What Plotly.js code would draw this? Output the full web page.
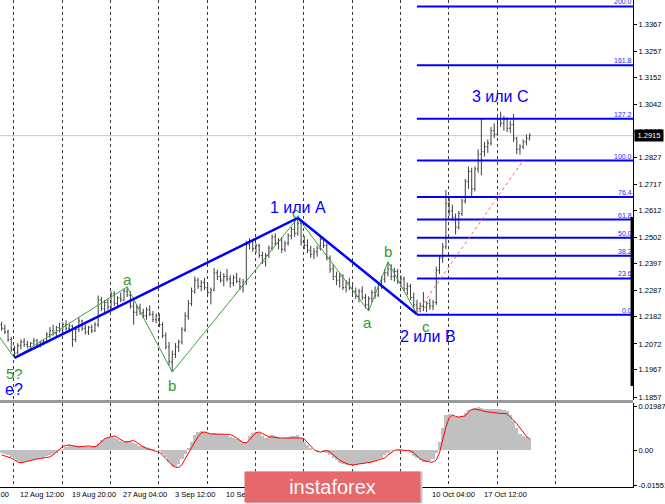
<!DOCTYPE html>
<html>
<head>
<meta charset="utf-8">
<script src="https://cdn.plot.ly/plotly-3.0.1.min.js"></script>
<style>html,body{margin:0;padding:0;background:#fff;}#chart{width:665px;height:504px;}</style>
</head>
<body>
<div id="chart"></div>
<script>
// ---- price bars (each bar = 8h step), GBP/USD H4 view ----
const opens = [1.2150,1.2135,1.2120,1.2090,1.2050,1.2035,1.2065,1.2080,1.2070,1.2062,1.2075,1.2085,1.2068,1.2078,1.2082,1.2110,1.2125,1.2115,1.2138,1.2128,
1.2150,1.2135,1.2145,1.2090,1.2130,1.2165,1.2135,1.2120,1.2138,1.2125,1.2150,1.2250,1.2215,1.2240,1.2222,1.2275,1.2235,1.2258,1.2250,1.2285,
1.2270,1.2225,1.2200,1.2220,1.2198,1.2185,1.2210,1.2192,1.2170,1.2185,1.2150,1.2105,1.2060,1.2000,1.2030,1.2060,1.2080,1.2130,1.2185,1.2235,
1.2285,1.2330,1.2305,1.2320,1.2300,1.2280,1.2290,1.2360,1.2345,1.2330,1.2345,1.2335,1.2318,1.2340,1.2325,1.2305,1.2325,1.2475,1.2485,1.2458,
1.2470,1.2430,1.2405,1.2430,1.2460,1.2505,1.2480,1.2490,1.2455,1.2480,1.2510,1.2535,1.2520,1.2560,1.2485,1.2470,1.2450,1.2435,1.2445,1.2460,
1.2495,1.2470,1.2420,1.2375,1.2345,1.2330,1.2345,1.2300,1.2320,1.2298,1.2285,1.2265,1.2285,1.2260,1.2230,1.2255,1.2280,1.2270,1.2310,1.2335,
1.2360,1.2375,1.2345,1.2365,1.2325,1.2335,1.2295,1.2305,1.2260,1.2230,1.2215,1.2225,1.2220,1.2235,1.2225,1.2240,1.2370,1.2420,1.2465,1.2640,
1.2610,1.2585,1.2545,1.2600,1.2650,1.2730,1.2770,1.2700,1.2780,1.2840,1.2850,1.2870,1.2885,1.2935,1.2920,1.2980,1.2965,1.2980,1.2945,1.2960,
1.2905,1.2860,1.2870,1.2890,1.2905];
const highs = [1.2162,1.2150,1.2130,1.2100,1.2065,1.2075,1.2090,1.2095,1.2085,1.2080,1.2095,1.2092,1.2085,1.2092,1.2120,1.2140,1.2150,1.2145,1.2158,1.2160,
1.2168,1.2155,1.2150,1.2140,1.2180,1.2170,1.2150,1.2145,1.2150,1.2160,1.2268,1.2262,1.2250,1.2255,1.2285,1.2285,1.2265,1.2280,1.2295,1.2303,
1.2285,1.2245,1.2230,1.2235,1.2215,1.2220,1.2228,1.2205,1.2195,1.2195,1.2160,1.2118,1.2080,1.2045,1.2075,1.2090,1.2140,1.2200,1.2250,1.2300,
1.2345,1.2340,1.2330,1.2340,1.2315,1.2300,1.2380,1.2372,1.2365,1.2358,1.2375,1.2350,1.2350,1.2360,1.2340,1.2335,1.2490,1.2500,1.2495,1.2480,
1.2478,1.2445,1.2440,1.2470,1.2515,1.2520,1.2500,1.2505,1.2490,1.2520,1.2545,1.2570,1.2582,1.2570,1.2510,1.2495,1.2470,1.2460,1.2470,1.2505,
1.2505,1.2480,1.2430,1.2395,1.2365,1.2360,1.2355,1.2330,1.2340,1.2320,1.2300,1.2295,1.2305,1.2275,1.2265,1.2290,1.2305,1.2320,1.2345,1.2375,
1.2404,1.2395,1.2380,1.2375,1.2350,1.2345,1.2320,1.2315,1.2280,1.2250,1.2240,1.2282,1.2245,1.2255,1.2250,1.2385,1.2430,1.2480,1.2695,1.2670,
1.2635,1.2600,1.2610,1.2660,1.2740,1.2790,1.2785,1.2790,1.2860,1.2985,1.2890,1.2900,1.2950,1.2965,1.2990,1.3012,1.2995,1.2990,1.2975,1.3003,
1.2910,1.2880,1.2900,1.2920,1.2925];
const lows = [1.2125,1.2112,1.2080,1.2040,1.2015,1.2030,1.2050,1.2060,1.2055,1.2050,1.2065,1.2060,1.2058,1.2068,1.2075,1.2095,1.2105,1.2100,1.2118,1.2110,
1.2125,1.2118,1.2060,1.2080,1.2120,1.2125,1.2110,1.2108,1.2115,1.2120,1.2140,1.2205,1.2200,1.2210,1.2215,1.2225,1.2222,1.2240,1.2245,1.2262,
1.2215,1.2150,1.2185,1.2190,1.2175,1.2170,1.2185,1.2160,1.2155,1.2140,1.2095,1.2050,1.1985,1.1958,1.2015,1.2040,1.2070,1.2120,1.2170,1.2225,
1.2275,1.2295,1.2285,1.2290,1.2270,1.2232,1.2285,1.2330,1.2320,1.2305,1.2325,1.2300,1.2305,1.2318,1.2290,1.2280,1.2310,1.2455,1.2445,1.2440,
1.2420,1.2395,1.2385,1.2420,1.2450,1.2470,1.2455,1.2440,1.2445,1.2470,1.2495,1.2505,1.2510,1.2470,1.2455,1.2440,1.2420,1.2415,1.2425,1.2450,
1.2460,1.2410,1.2360,1.2330,1.2310,1.2300,1.2290,1.2280,1.2290,1.2270,1.2255,1.2240,1.2250,1.2215,1.2205,1.2240,1.2255,1.2262,1.2295,1.2320,
1.2345,1.2330,1.2325,1.2315,1.2300,1.2285,1.2270,1.2250,1.2215,1.2195,1.2200,1.2205,1.2200,1.2210,1.2208,1.2230,1.2355,1.2400,1.2455,1.2590,
1.2570,1.2515,1.2535,1.2590,1.2640,1.2700,1.2665,1.2690,1.2765,1.2755,1.2830,1.2845,1.2875,1.2905,1.2915,1.2950,1.2935,1.2930,1.2925,1.2890,
1.2840,1.2838,1.2860,1.2875,1.2895];
const closes = [1.2135,1.2120,1.2090,1.2050,1.2035,1.2065,1.2080,1.2070,1.2062,1.2075,1.2085,1.2068,1.2078,1.2082,1.2110,1.2125,1.2115,1.2138,1.2128,1.2150,
1.2135,1.2145,1.2090,1.2130,1.2165,1.2135,1.2120,1.2138,1.2125,1.2150,1.2250,1.2215,1.2240,1.2222,1.2275,1.2235,1.2258,1.2250,1.2285,1.2270,
1.2225,1.2200,1.2220,1.2198,1.2185,1.2210,1.2192,1.2170,1.2185,1.2150,1.2105,1.2060,1.2000,1.2030,1.2060,1.2080,1.2130,1.2185,1.2235,1.2285,
1.2330,1.2305,1.2320,1.2300,1.2280,1.2290,1.2360,1.2345,1.2330,1.2345,1.2335,1.2318,1.2340,1.2325,1.2305,1.2325,1.2475,1.2485,1.2458,1.2470,
1.2430,1.2405,1.2430,1.2460,1.2505,1.2480,1.2490,1.2455,1.2480,1.2510,1.2535,1.2520,1.2560,1.2485,1.2470,1.2450,1.2435,1.2445,1.2460,1.2495,
1.2470,1.2420,1.2375,1.2345,1.2330,1.2345,1.2300,1.2320,1.2298,1.2285,1.2265,1.2285,1.2260,1.2230,1.2255,1.2280,1.2270,1.2310,1.2335,1.2360,
1.2375,1.2345,1.2365,1.2325,1.2335,1.2295,1.2305,1.2260,1.2230,1.2215,1.2225,1.2220,1.2235,1.2225,1.2240,1.2370,1.2420,1.2465,1.2640,1.2610,
1.2585,1.2545,1.2600,1.2650,1.2730,1.2770,1.2700,1.2780,1.2840,1.2850,1.2870,1.2885,1.2935,1.2920,1.2980,1.2965,1.2980,1.2945,1.2960,1.2905,
1.2860,1.2870,1.2890,1.2905,1.2915];

// ---- MACD window ----
const macdHist = [-0.0012,-0.0015,-0.0020,-0.0028,-0.0038,-0.0048,-0.0056,-0.0054,-0.0048,-0.0045,-0.0042,-0.0040,-0.0036,-0.0032,-0.0027,-0.0022,-0.0016,-0.0010,-0.0004,
0.0005,0.0015,0.0025,0.0020,0.0018,0.0022,0.0020,0.0017,0.0015,0.0017,0.0022,
0.0035,0.0045,0.0052,0.0058,0.0062,
0.0058,0.0050,0.0042,0.0040,0.0042,0.0040,0.0032,0.0028,
0.0022,0.0018,0.0015,0.0012,0.0008,0.0003,-0.0003,
-0.0015,-0.0030,-0.0050,-0.0072,-0.0075,-0.0060,
-0.0040,-0.0015,0.0010,0.0040,0.0070,0.0085,
0.0086,0.0082,0.0080,0.0075,0.0078,0.0076,0.0072,0.0070,0.0066,0.0060,0.0055,0.0050,0.0045,
0.0038,0.0040,0.0065,0.0080,0.0085,0.0078,
0.0065,0.0058,0.0060,0.0068,0.0066,0.0062,0.0058,0.0056,0.0060,0.0064,0.0066,0.0068,
0.0055,0.0040,0.0025,0.0012,0.0002,-0.0003,0.0000,-0.0005,
-0.0012,-0.0022,-0.0035,-0.0045,-0.0055,-0.0062,-0.0065,-0.0066,-0.0064,-0.0062,-0.0060,-0.0058,-0.0058,-0.0055,
-0.0050,-0.0046,-0.0040,-0.0032,-0.0022,-0.0010,
-0.0003,0.0004,0.0006,0.0005,0.0003,-0.0003,-0.0012,
-0.0025,-0.0035,-0.0045,-0.0050,-0.0052,-0.0048,-0.0038,
-0.0010,0.0040,0.0100,0.0160,
0.0165,0.0160,0.0152,0.0150,0.0155,
0.0170,0.0182,0.0186,0.0190,0.0195,0.0192,0.0188,0.0185,0.0186,0.0185,0.0186,0.0184,0.0180,0.0175,
0.0160,0.0130,0.0100,0.0075,0.0065,0.0060,0.0058];
const macdSignal = [-0.0020,-0.0025,-0.0029,-0.0034,-0.0043,-0.0052,-0.0056,-0.0052,-0.0047,-0.0043,
-0.0040,-0.0038,-0.0036,-0.0034,-0.0031,-0.0029,-0.0020,-0.0007,0.0007,0.0018,
0.0022,0.0025,0.0022,0.0018,0.0016,0.0018,0.0020,0.0020,0.0018,0.0016,
0.0025,0.0038,0.0052,0.0058,0.0063,0.0065,0.0058,0.0049,0.0040,0.0038,
0.0043,0.0045,0.0036,0.0025,0.0016,0.0009,0.0004,0.0000,-0.0004,-0.0007,
-0.0020,-0.0036,-0.0052,-0.0065,-0.0076,-0.0076,-0.0065,-0.0038,-0.0011,0.0013,
0.0038,0.0061,0.0079,0.0083,0.0079,0.0074,0.0074,0.0074,0.0074,0.0074,
0.0074,0.0072,0.0065,0.0054,0.0045,0.0036,0.0034,0.0047,0.0065,0.0079,
0.0083,0.0076,0.0067,0.0061,0.0061,0.0058,0.0056,0.0056,0.0056,0.0056,
0.0056,0.0056,0.0056,0.0056,0.0052,0.0038,0.0020,0.0004,-0.0004,-0.0007,
-0.0002,0.0000,-0.0007,-0.0020,-0.0034,-0.0043,-0.0052,-0.0058,-0.0063,-0.0065,
-0.0063,-0.0061,-0.0058,-0.0056,-0.0054,-0.0052,-0.0047,-0.0043,-0.0038,-0.0034,
-0.0020,-0.0009,0.0000,0.0002,0.0002,0.0000,0.0000,-0.0002,-0.0011,-0.0025,
-0.0038,-0.0045,-0.0049,-0.0052,-0.0052,-0.0043,-0.0011,0.0047,0.0105,0.0146,
0.0159,0.0153,0.0150,0.0153,0.0155,0.0173,0.0184,0.0186,0.0184,0.0180,
0.0175,0.0173,0.0171,0.0168,0.0168,0.0166,0.0166,0.0164,0.0150,0.0137,
0.0121,0.0101,0.0079,0.0063,0.0052];

// ---- axes text ----
const priceTicks = [1.1857,1.1967,1.2072,1.2182,1.2287,1.2397,1.2502,1.2612,1.2717,1.2827,1.2932,1.3042,1.3152,1.3257,1.3367];
const macdTicks = [0.01987, 0, -0.01551];
const macdTickText = ['0.01987','0.00','-0.01551'];
const timeLabels = ['5 Aug 04:00','12 Aug 12:00','19 Aug 20:00','27 Aug 04:00','3 Sep 12:00','10 Sep 20:00','18 Sep 04:00','25 Sep 12:00','2 Oct 20:00','10 Oct 04:00','17 Oct 12:00'];
const timeLabelIdx = [-10.8,5.2,21.2,37.2,53.2,69.2,85.2,101.2,117.2,133.2,149.2];
const gridIdx = [3.84,18.83,33.85,48.84,63.83,78.85,93.84,108.83,123.84,138.83,153.94,172.04];
const lastPrice = 1.2915;

// ---- wave markup ----
const waveMajorIdx = [4, 92, 129];
const waveMajorPrice = [1.2015, 1.2582, 1.2192];
const waveMinorIdx = [-2, 4, 39, 53, 92, 114, 120, 129];
const waveMinorPrice = [1.2124, 1.2015, 1.2303, 1.1958, 1.2582, 1.2205, 1.2404, 1.2192];
const trendIdx = [128.9, 162.1];
const trendPrice = [1.2197, 1.2817];
const fibLevels = [0, 23.6, 38.2, 50.0, 61.8, 76.4, 100.0, 127.2, 161.8, 200.0];
const fibBase = 1.2190, fibTop = 1.2814, fibStartIdx = 129;
const greenLabels = [['5?',4.15,1.1952],['a',39.2,1.2331],['b',52.9,1.1902],['c',91.4,1.2602],['a',113.7,1.2157],['b',119.9,1.2448],['c',131.7,1.2144]];
const blueLabels = [['e?',3.84,1.1889],['1 или A',92.0,1.2626],['2 или B',132.3,1.2104],['3 или C',155.0,1.3075]];

const xr = [-0.5, 196.1];
const idx = closes.map((_, i) => i);
const FONT = 'Liberation Sans, Arial, sans-serif';
const BLUE = '#0000ff', GREEN = '#2f9a2f';

const fibX = [], fibY = [];
fibLevels.forEach(l => { const p = fibBase + (fibTop - fibBase) * l / 100; fibX.push(fibStartIdx, xr[1], null); fibY.push(p, p, null); });

const traces = [
  {type:'ohlc', x: idx, open: opens, high: highs, low: lows, close: closes, xaxis:'x', yaxis:'y',
   increasing:{line:{color:'#3e3e3e', width:1}}, decreasing:{line:{color:'#3e3e3e', width:1}}, tickwidth:0.35, hoverinfo:'skip'},
  {type:'scatter', mode:'lines', x: waveMinorIdx, y: waveMinorPrice, line:{color:'#3aa33a', width:1}, xaxis:'x', yaxis:'y', hoverinfo:'skip'},
  {type:'scatter', mode:'lines', x: waveMajorIdx, y: waveMajorPrice, line:{color:BLUE, width:2.5}, xaxis:'x', yaxis:'y', hoverinfo:'skip'},
  {type:'scatter', mode:'lines', x: fibX, y: fibY, line:{color:BLUE, width:2}, xaxis:'x', yaxis:'y', hoverinfo:'skip', connectgaps:false},
  {type:'scatter', mode:'lines', x: trendIdx, y: trendPrice, line:{color:'#ff6060', width:1, dash:'dot'}, xaxis:'x', yaxis:'y', hoverinfo:'skip'},
  {type:'bar', x: idx, y: macdHist, width: 1, marker:{color:'#c0c0c0', line:{width:0}}, xaxis:'x', yaxis:'y2', hoverinfo:'skip'},
  {type:'scatter', mode:'lines', x: idx, y: macdSignal, line:{color:'#ff0000', width:1}, xaxis:'x', yaxis:'y2', hoverinfo:'skip'}
];

const annotations = [];
greenLabels.forEach(([t,x,y]) => annotations.push({text:t, x, y, xref:'x', yref:'y', showarrow:false, xanchor:'center', yanchor:'middle', font:{family:FONT, size:15, color:GREEN}}));
blueLabels.forEach(([t,x,y]) => annotations.push({text:t, x, y, xref:'x', yref:'y', showarrow:false, xanchor:'center', yanchor:'middle', font:{family:FONT, size:16, color:BLUE}}));
fibLevels.forEach(l => annotations.push({text:l.toFixed(1), x: xr[1], y: fibBase + (fibTop - fibBase) * l / 100, xref:'x', yref:'y', showarrow:false, xanchor:'right', yanchor:'bottom', borderpad:0, yshift:0, font:{family:FONT, size:7, color:'#2a2aff'}}));
annotations.push({text: lastPrice.toFixed(4), x:1, xref:'paper', y:lastPrice, yref:'y', xanchor:'left', yanchor:'middle', xshift:1, showarrow:false, bgcolor:'#000000', borderpad:1, width:26, font:{family:FONT, size:7.5, color:'#ffffff'}});
timeLabels.forEach((t, k) => annotations.push({text:t, x:(timeLabelIdx[k]-xr[0])/(xr[1]-xr[0]), xref:'paper', y:0, yref:'paper', xanchor:'left', yanchor:'top', yshift:-1, showarrow:false, font:{family:FONT, size:7.5, color:'#000'}}));
annotations.push({text:' ', x:333.5/633, xref:'paper', y:-0.002, yref:'paper', xanchor:'center', yanchor:'middle', showarrow:false, width:176, height:31, bgcolor:'#c9c9c9', borderpad:0, font:{size:10}});
annotations.push({text:'instaforex', x:332.5/633, xref:'paper', y:0, yref:'paper', xanchor:'center', yanchor:'middle', showarrow:false, width:175, height:30, bgcolor:'#e4686c', borderpad:0, font:{family:FONT, size:20, color:'#fbfbfb'}});

const axisCommon = {side:'right', ticks:'outside', ticklen:3, tickcolor:'#000', tickfont:{family:FONT, size:7.5, color:'#000'}, showgrid:false, zeroline:false, showline:true, linecolor:'#000', linewidth:1, fixedrange:true, anchor:'x'};

const layout = {
  width:665, height:504, margin:{l:0, r:32, t:0, b:17, pad:0},
  paper_bgcolor:'#fff', plot_bgcolor:'#fff', showlegend:false, bargap:0,
  font:{family:FONT, size:8, color:'#000'},
  xaxis:{range:xr, anchor:'y2', tickvals:gridIdx, showticklabels:false, ticks:'', showgrid:true, gridcolor:'#3a3a3a', griddash:'3px,3px', gridwidth:1, zeroline:false, showline:true, linecolor:'#000', linewidth:1, rangeslider:{visible:false}, fixedrange:true},
  yaxis:Object.assign({}, axisCommon, {domain:[0.17864,1], range:[1.18449,1.34642], tickvals:priceTicks, ticktext:priceTicks.map(v=>v.toFixed(4))}),
  yaxis2:Object.assign({}, axisCommon, {domain:[0,0.17248], range:[-0.0164,0.0213], tickvals:macdTicks, ticktext:macdTickText}),
  shapes:[
    {type:'line', xref:'paper', x0:0, x1:1, yref:'y', y0:lastPrice, y1:lastPrice, line:{color:'#c8c8c8', width:1}, layer:'below'},
    {type:'rect', xref:'paper', x0:0, x1:1, yref:'paper', y0:0.17248, y1:0.17864, fillcolor:'#9a9a9a', line:{width:0}},
    {type:'line', xref:'paper', x0:0.9985, x1:0.9985, yref:'paper', y0:0.2074, y1:0.5544, line:{color:'#000', width:3}}
  ],
  annotations
};

Plotly.newPlot('chart', traces, layout, {staticPlot:true, displayModeBar:false});
</script>
</body>
</html>
